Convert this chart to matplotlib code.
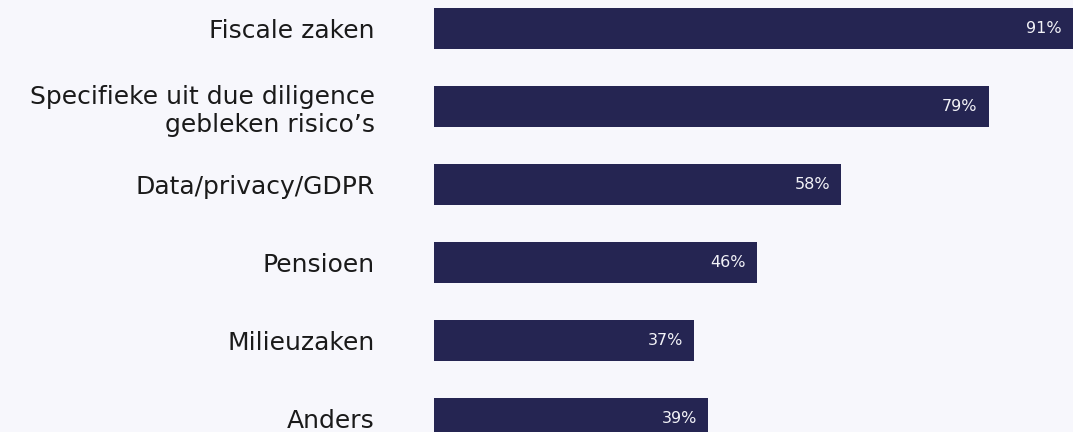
import matplotlib.pyplot as plt

# Data
categories = ['Fiscale zaken',
              'Specifieke uit due diligence\ngebleken risico’s',
              'Data/privacy/GDPR',
              'Pensioen',
              'Milieuzaken',
              'Anders']
values = [91, 79, 58, 46, 37, 39]

BG = '#f7f7fc'
BAR = '#252552'

plt.rcParams['font.family'] = ['DejaVu Sans']

fig = plt.figure(figsize=(10.73, 4.32), dpi=100, facecolor=BG)
ax = fig.add_axes([434 / 1073, 0, (1073 - 434) / 1073, 1])
ax.set_facecolor(BG)

y = list(range(len(categories)))
ax.barh(y, values, height=0.526, color=BAR)

for yi, v in zip(y, values):
    ax.annotate(f'{v}%', xy=(v, yi), xytext=(-8, 0), textcoords='offset points',
                ha='right', va='center', color='#f2f2f7', fontsize=11.5)

ax.set_xlim(0, 91)
ax.set_ylim(5.173, -0.365)
ax.set_yticks(y, categories, fontsize=18, color='#1a1a1a', linespacing=1.2)
ax.tick_params(axis='y', length=0, pad=42.5)
ax.set_xticks([])
for s in ax.spines.values():
    s.set_visible(False)

fig.savefig('out.png', dpi=100, facecolor=BG)
